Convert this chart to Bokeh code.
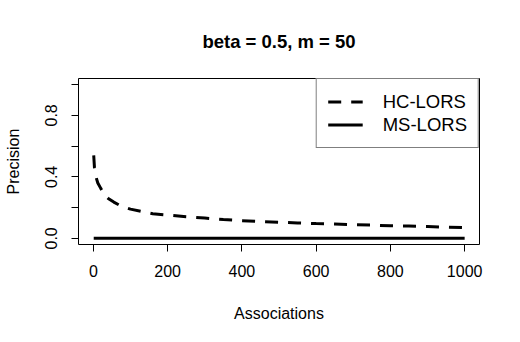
from bokeh.plotting import figure
from bokeh.models import Range1d, FixedTicker, Legend, LegendItem
from bokeh.embed import file_html
from bokeh.resources import INLINE

# ---- data ----
assoc = [1, 3, 7, 12, 20, 30, 40, 55, 75, 100, 130, 160, 200, 250, 300, 350,
         400, 450, 500, 550, 600, 650, 700, 750, 800, 850, 900, 950, 1000]
hc_lors = [0.54, 0.46, 0.40, 0.36, 0.325, 0.285, 0.26, 0.236, 0.21, 0.19, 0.175,
           0.16, 0.152, 0.14, 0.132, 0.122, 0.115, 0.11, 0.105, 0.10, 0.096,
           0.093, 0.089, 0.086, 0.082, 0.08, 0.077, 0.072, 0.07]
ms_assoc = [1, 1000]
ms_lors = [0.0, 0.0]

x_ticks = [0, 200, 400, 600, 800, 1000]
y_ticks = [0.0, 0.2, 0.4, 0.6, 0.8, 1.0]
y_tick_labels = {0.0: "0.0", 0.2: "", 0.4: "0.4", 0.6: "", 0.8: "0.8", 1.0: ""}

title_text = "beta = 0.5, m = 50"
x_label = "Associations"
y_label = "Precision"
series_names = ["HC-LORS", "MS-LORS"]

FONT = "Liberation Sans"

p = figure(width=520, height=342, output_backend="svg", toolbar_location=None,
           x_range=Range1d(-40, 1040), y_range=Range1d(-0.04, 1.04),
           min_border_left=78, min_border_right=41, min_border_top=78,
           min_border_bottom=98, title=title_text)

p.background_fill_color = "white"
p.border_fill_color = "white"
p.outline_line_color = "black"
p.outline_line_width = 1
p.grid.visible = False

p.title.align = "center"
p.title.text_font = FONT
p.title.text_font_size = "18.5px"
p.title.text_font_style = "bold"
p.title.text_color = "black"
p.title.standoff = 54

for ax in (p.xaxis[0], p.yaxis[0]):
    ax.axis_line_color = None
    ax.major_tick_in = 0
    ax.major_tick_out = 7
    ax.major_tick_line_color = "black"
    ax.minor_tick_line_color = None
    ax.major_label_text_font = FONT
    ax.major_label_text_font_size = "16px"
    ax.major_label_text_color = "black"
    ax.axis_label_text_font = FONT
    ax.axis_label_text_font_size = "16px"
    ax.axis_label_text_font_style = "normal"
    ax.axis_label_text_color = "black"

p.xaxis.ticker = FixedTicker(ticks=x_ticks)
p.xaxis.axis_label = x_label
p.xaxis.major_label_standoff = 13
p.xaxis.axis_label_standoff = 25

p.yaxis.ticker = FixedTicker(ticks=y_ticks)
p.yaxis.major_label_overrides = y_tick_labels
p.yaxis.major_label_orientation = "vertical"
p.yaxis.axis_label = y_label
p.yaxis.major_label_standoff = 14
p.yaxis.axis_label_standoff = 21

r_hc = p.line(assoc, hc_lors, line_color="black", line_width=3, line_dash="13 10")
r_ms = p.line(ms_assoc, ms_lors, line_color="black", line_width=3)

legend = Legend(items=[LegendItem(label=series_names[0], renderers=[r_hc]),
                       LegendItem(label=series_names[1], renderers=[r_ms])],
                location="top_right", margin=0, padding=11, spacing=0,
                glyph_width=35, glyph_height=23, label_height=23,
                label_standoff=20, border_line_color="black", border_line_width=1,
                label_text_font=FONT, label_text_font_size="18.5px",
                label_text_color="black", background_fill_color="white",
                background_fill_alpha=1.0)
p.add_layout(legend)

open("out.html", "w").write(file_html(p, INLINE))
